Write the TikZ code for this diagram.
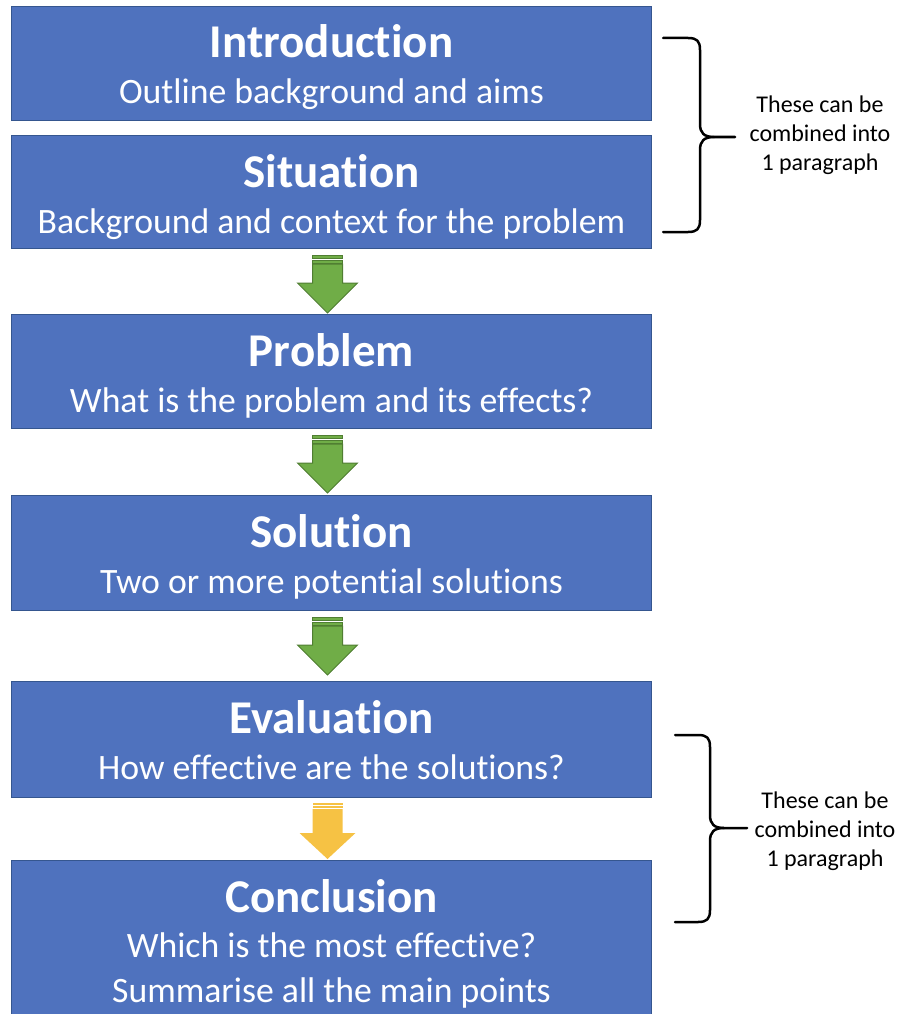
\documentclass[tikz,border=0pt]{standalone}
\usepackage{fontspec}
\setmainfont{Carlito}[Ligatures={NoCommon}]
\usetikzlibrary{calc}

\definecolor{boxblue}{HTML}{4F72BE}
\definecolor{boxline}{HTML}{35568F}
\definecolor{arrowgreen}{HTML}{70AD47}
\definecolor{arrowline}{HTML}{507E32}
\definecolor{arrowyellow}{HTML}{F6C244}

\tikzset{
  stage/.style={draw=boxline, line width=1pt, fill=boxblue, minimum width=640pt, anchor=north west, inner sep=0pt},
  head/.style={anchor=base, text=white, font=\fontsize{47}{47}\selectfont\bfseries, inner sep=0pt},
  sub/.style={anchor=base, text=white, font=\fontsize{35.7}{36}\selectfont, inner sep=0pt},
  note/.style={align=center, font=\fontsize{24}{29}\selectfont, inner sep=0pt},
  brace/.style={line width=2.5pt, line cap=round, line join=round},
}

\begin{document}
\begin{tikzpicture}[x=1pt, y=-1pt]
  \useasboundingbox (0,0) rectangle (906,1014);
  \clip (0,0) rectangle (906,1014);

  % boxes
  \node[stage, minimum height=114pt] (intro) at (11,6) {};
  \node[stage, minimum height=113pt] (sit) at (11,135) {};
  \node[stage, minimum height=114pt] (prob) at (11,314) {};
  \node[stage, minimum height=115pt] (sol) at (11,495) {};
  \node[stage, minimum height=116pt] (eval) at (11,681) {};
  \node[stage, minimum height=170pt] (concl) at (11,860) {};

  % texts
  \node[head] (intro-h) at ($(intro.north)+(0,52)$) {Introduction};
  \node[sub] (intro-s) at ($(intro.north)+(0,98)$) {Outline background and aims};
  \node[head] (sit-h) at ($(sit.north)+(0,52)$) {Situation};
  \node[sub] (sit-s) at ($(sit.north)+(0,98)$) {Background and context for the problem};
  \node[head] (prob-h) at ($(prob.north)+(0,52)$) {Problem};
  \node[sub] (prob-s) at ($(prob.north)+(0,98)$) {What is the problem and its effects?};
  \node[head] (sol-h) at ($(sol.north)+(0,52)$) {Solution};
  \node[sub] (sol-s) at ($(sol.north)+(0,98)$) {Two or more potential solutions};
  \node[head] (eval-h) at ($(eval.north)+(0,52)$) {Evaluation};
  \node[sub] (eval-s) at ($(eval.north)+(0,98)$) {How effective are the solutions?};
  \node[head] (concl-h) at ($(concl.north)+(0,52)$) {Conclusion};
  \node[sub] (concl-s1) at ($(concl.north)+(0,97)$) {Which is the most effective?};
  \node[sub] (concl-s2) at ($(concl.north)+(0,142)$) {Summarise all the main points};

  % arrows
  \foreach \a/\b in {sit/prob, prob/sol, sol/eval} {
    \begin{scope}[shift={($(\a.south)+(-4,0)$)}]
      \filldraw[fill=arrowgreen, draw=arrowline, line width=1pt] (-15,6) rectangle (15,9);
      \filldraw[fill=arrowgreen, draw=arrowline, line width=1pt] (-15,11) rectangle (15,14);
      \filldraw[fill=arrowgreen, draw=arrowline, line width=1pt, line join=miter]
        (-15,15) -- (15,15) -- (15,34) -- (30,34) -- (0,64) -- (-30,34) -- (-15,34) -- cycle;
    \end{scope}
  }
  \begin{scope}[shift={($(eval.south)+(-4,0)$)}]
    \fill[arrowyellow] (-15,5) rectangle (15,6.5);
    \fill[arrowyellow] (-15,8) rectangle (15,10);
    \fill[arrowyellow] (-15,11) -- (15,11) -- (15,35) -- (28,35) -- (0,61) -- (-28,35) -- (-15,35) -- cycle;
  \end{scope}

  % braces
  \draw[brace] (663,38) -- (688,38) .. controls (697,38) and (700,41) .. (700,50) -- (700,124)
    .. controls (700,133) and (704,137) .. (714,137) -- (735,137);
  \draw[brace] (714,137) .. controls (704,137) and (700,141) .. (700,150) -- (700,220)
    .. controls (700,229) and (697,232) .. (688,232) -- (663,232);
  \node[note] (note1) at (820,135) {These can be\\combined into\\1 paragraph};

  \draw[brace] (675,735) -- (698,735) .. controls (707,735) and (710,738) .. (710,747) -- (710,815)
    .. controls (710,824) and (714,828) .. (724,828) -- (747,828);
  \draw[brace] (724,828) .. controls (714,828) and (710,832) .. (710,841) -- (710,910)
    .. controls (710,919) and (707,922) .. (698,922) -- (675,922);
  \node[note] (note2) at (825,831) {These can be\\combined into\\1 paragraph};
\end{tikzpicture}
\end{document}
